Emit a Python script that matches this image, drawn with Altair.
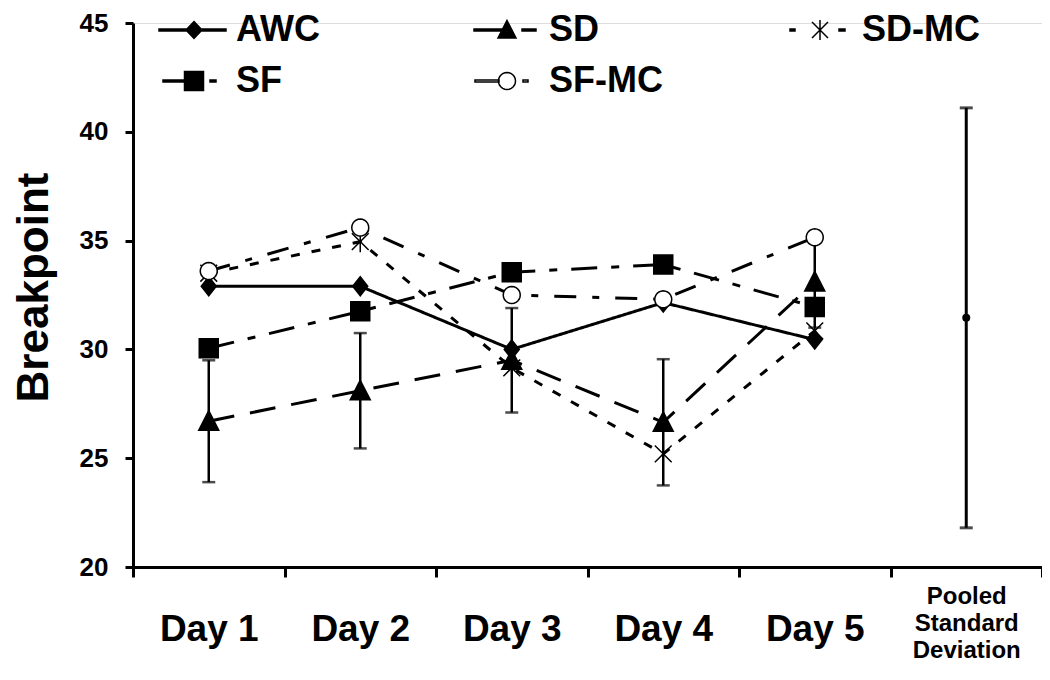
import math
import altair as alt
import pandas as pd

# ---------------- data ----------------
days = ["Day 1", "Day 2", "Day 3", "Day 4", "Day 5"]
pooled_label = "Pooled Standard Deviation"
categories = days + [pooled_label]
series = ["AWC", "SD", "SD-MC", "SF", "SF-MC"]

awc = [32.9, 32.9, 30.0, 32.15, 30.45]
sd = [26.7, 28.1, 29.5, 26.65, 33.1]
sd_mc = [33.5, 34.95, 29.15, 25.2, 30.85]
sf = [30.05, 31.75, 33.55, 33.9, 31.95]
sf_mc = [33.6, 35.6, 32.5, 32.3, 35.15]
sd_err = [2.8, 2.65, 2.4, 2.9, 2.1]

pooled_mean = [31.45]
pooled_sd = [9.65]

# ---------------- tables ----------------
values_by_series = {"AWC": awc, "SD": sd, "SD-MC": sd_mc, "SF": sf, "SF-MC": sf_mc}
rows = []
for s in series:
    for d, v in zip(days, values_by_series[s]):
        rows.append({"Day": d, "Series": s, "value": v})
df = pd.DataFrame(rows)

err_df = pd.DataFrame({
    "Day": days,
    "lo": [m - e for m, e in zip(sd, sd_err)],
    "hi": [m + e for m, e in zip(sd, sd_err)],
})
pooled_df = pd.DataFrame({
    "Day": [pooled_label],
    "mean": pooled_mean,
    "lo": [m - e for m, e in zip(pooled_mean, pooled_sd)],
    "hi": [m + e for m, e in zip(pooled_mean, pooled_sd)],
})

# ---------------- symbol paths ----------------
def rect(x0, x1, h=0.1):
    return f"M{x0},{-h}L{x1},{-h}L{x1},{h}L{x0},{h}Z"

def diamond(w, h):
    return f"M0,{-h}L{w},0L0,{h}L{-w},0Z"

def tri(w, top, bot):
    return f"M0,{-top}L{w},{bot}L{-w},{bot}Z"

def square(r):
    return f"M{-r},{-r}L{r},{-r}L{r},{r}L{-r},{r}Z"

def asterisk(r):
    d = r * 0.8
    return f"M0,{-r}L0,{r}M{-d},{-d}L{d},{d}M{-d},{d}L{d},{-d}"

def circle(r, n=24):
    pts = [(r * math.cos(2 * math.pi * k / n), r * math.sin(2 * math.pi * k / n)) for k in range(n)]
    return "M" + "L".join(f"{x:.3f},{y:.3f}" for x, y in pts) + "Z"

marker_paths = [
    diamond(0.75, 0.95),
    tri(1.0, 1.05, 0.9),
    asterisk(1.05),
    square(0.95),
    circle(0.85),
]
legend_paths = [
    rect(-3.5, -0.7) + diamond(0.8, 0.85) + rect(0.7, 3.2),
    rect(-3.3, -0.5) + tri(0.9, 0.95, 0.8) + rect(1.5, 2.9),
    rect(-3.0, -2.5) + asterisk(1.0) + rect(1.9, 2.5),
    rect(-3.1, -0.9) + square(0.95) + rect(1.6, 2.2),
    rect(-3.2, -0.8) + circle(0.85) + rect(1.6, 2.1),
]
fills = ["black", "black", "black", "black", "white"]
strokes = ["black"] * 5
dashes = [[1, 0], [26, 16], [9, 12], [26, 14, 8, 14], [22, 16, 7, 16]]

FONT = "Liberation Sans"
POOLED_TEST = f"datum.value == '{pooled_label}'"

x_axis = alt.Axis(
    title=None,
    labelAngle=0,
    labelFont=FONT,
    labelFontWeight="bold",
    labelColor="black",
    labelFontSize={"condition": {"test": POOLED_TEST, "value": 24}, "value": 37},
    labelPadding={"condition": {"test": POOLED_TEST, "value": 7}, "value": 34},
    labelLineHeight=27,
    labelExpr=f"{POOLED_TEST} ? ['Pooled', 'Standard', 'Deviation'] : datum.value",
    labelLimit=0,
    tickBand="extent",
    tickSize=10,
    tickWidth=3,
    tickColor="black",
    domainWidth=3,
    domainColor="black",
    grid=False,
)
y_axis = alt.Axis(
    title="Breakpoint",
    values=[20, 25, 30, 35, 40, 45],
    labelFont=FONT,
    labelFontWeight="bold",
    labelFontSize=26,
    labelColor="black",
    labelPadding=17,
    tickSize=8,
    tickWidth=3,
    tickColor="black",
    domainWidth=3,
    domainColor="black",
    grid=False,
    titleFont=FONT,
    titleFontSize=44,
    titleFontWeight="bold",
    titleColor="black",
    titleAngle=-90,
    titleX=-86,
    titleY=264,
    titleAlign="center",
    titleBaseline="alphabetic",
)

x_enc = alt.X("Day:N", scale=alt.Scale(domain=categories, paddingInner=0, paddingOuter=0), sort=categories, axis=x_axis)

def y_enc(field):
    return alt.Y(f"{field}:Q", scale=alt.Scale(domain=[20, 45], nice=False, zero=False), axis=y_axis, title="Breakpoint")

lines = alt.Chart(df).mark_line(color="black", strokeWidth=3).encode(
    x=x_enc,
    y=y_enc("value"),
    strokeDash=alt.StrokeDash("Series:N", scale=alt.Scale(domain=series, range=dashes), legend=None),
    detail="Series:N",
)

err_rule = alt.Chart(err_df).mark_rule(color="black", strokeWidth=2.5).encode(
    x=x_enc, y=y_enc("lo"), y2="hi:Q"
)
err_lo = alt.Chart(err_df).mark_tick(color="black", size=13, thickness=2.5, orient="horizontal").encode(
    x=x_enc, y=y_enc("lo")
)
err_hi = alt.Chart(err_df).mark_tick(color="black", size=13, thickness=2.5, orient="horizontal").encode(
    x=x_enc, y=y_enc("hi")
)

markers = alt.Chart(df).mark_point(stroke="black", strokeWidth=1.5, opacity=1, size=400).encode(
    x=x_enc,
    y=y_enc("value"),
    shape=alt.Shape("Series:N", scale=alt.Scale(domain=series, range=marker_paths), legend=None),
    fill=alt.Fill("Series:N", scale=alt.Scale(domain=series, range=fills), legend=None),
)

legend_layer = alt.Chart(df).mark_point(strokeWidth=1.5, opacity=0, size=400).encode(
    x=x_enc,
    y=y_enc("value"),
    shape=alt.Shape(
        "Series:N",
        scale=alt.Scale(domain=series, range=legend_paths),
        legend=alt.Legend(
            title=None,
            orient="none",
            direction="horizontal",
            legendX=43,
            legendY=-11,
            columns=3,
            gridAlign="all",
            columnPadding=117,
            rowPadding=15,
            padding=0,
            symbolSize=400,
            symbolStrokeWidth=1.5,
            symbolStrokeColor="black",
            symbolOpacity=1,
            labelFont=FONT,
            labelFontWeight="bold",
            labelFontSize=36,
            labelColor="black",
            labelOffset=24,
            labelLimit=0,
        ),
    ),
    fill=alt.Fill("Series:N", scale=alt.Scale(domain=series, range=fills), legend=alt.Legend(title=None)),
    stroke=alt.Stroke("Series:N", scale=alt.Scale(domain=series, range=strokes), legend=alt.Legend(title=None)),
)

pooled_rule = alt.Chart(pooled_df).mark_rule(color="black", strokeWidth=3).encode(
    x=x_enc, y=y_enc("lo"), y2="hi:Q"
)
pooled_lo = alt.Chart(pooled_df).mark_tick(color="black", size=13, thickness=3, orient="horizontal").encode(
    x=x_enc, y=y_enc("lo")
)
pooled_hi = alt.Chart(pooled_df).mark_tick(color="black", size=13, thickness=3, orient="horizontal").encode(
    x=x_enc, y=y_enc("hi")
)
pooled_dot = alt.Chart(pooled_df).mark_point(shape="circle", filled=True, color="black", opacity=1, size=64).encode(
    x=x_enc, y=y_enc("mean")
)

chart = (
    alt.layer(
        lines, err_rule, err_lo, err_hi, markers, legend_layer,
        pooled_rule, pooled_lo, pooled_hi, pooled_dot,
    )
    .resolve_scale(shape="independent", fill="independent", stroke="independent")
    .properties(
        width=909,
        height=544,
        padding={"left": 125, "top": 15, "right": 0, "bottom": 105},
        autosize=alt.AutoSizeParams(type="none"),
        background="white",
    )
    .configure_view(stroke=None)
    .configure(font=FONT)
)

chart.save("out.html", embed_options={"renderer": "svg", "actions": False})
